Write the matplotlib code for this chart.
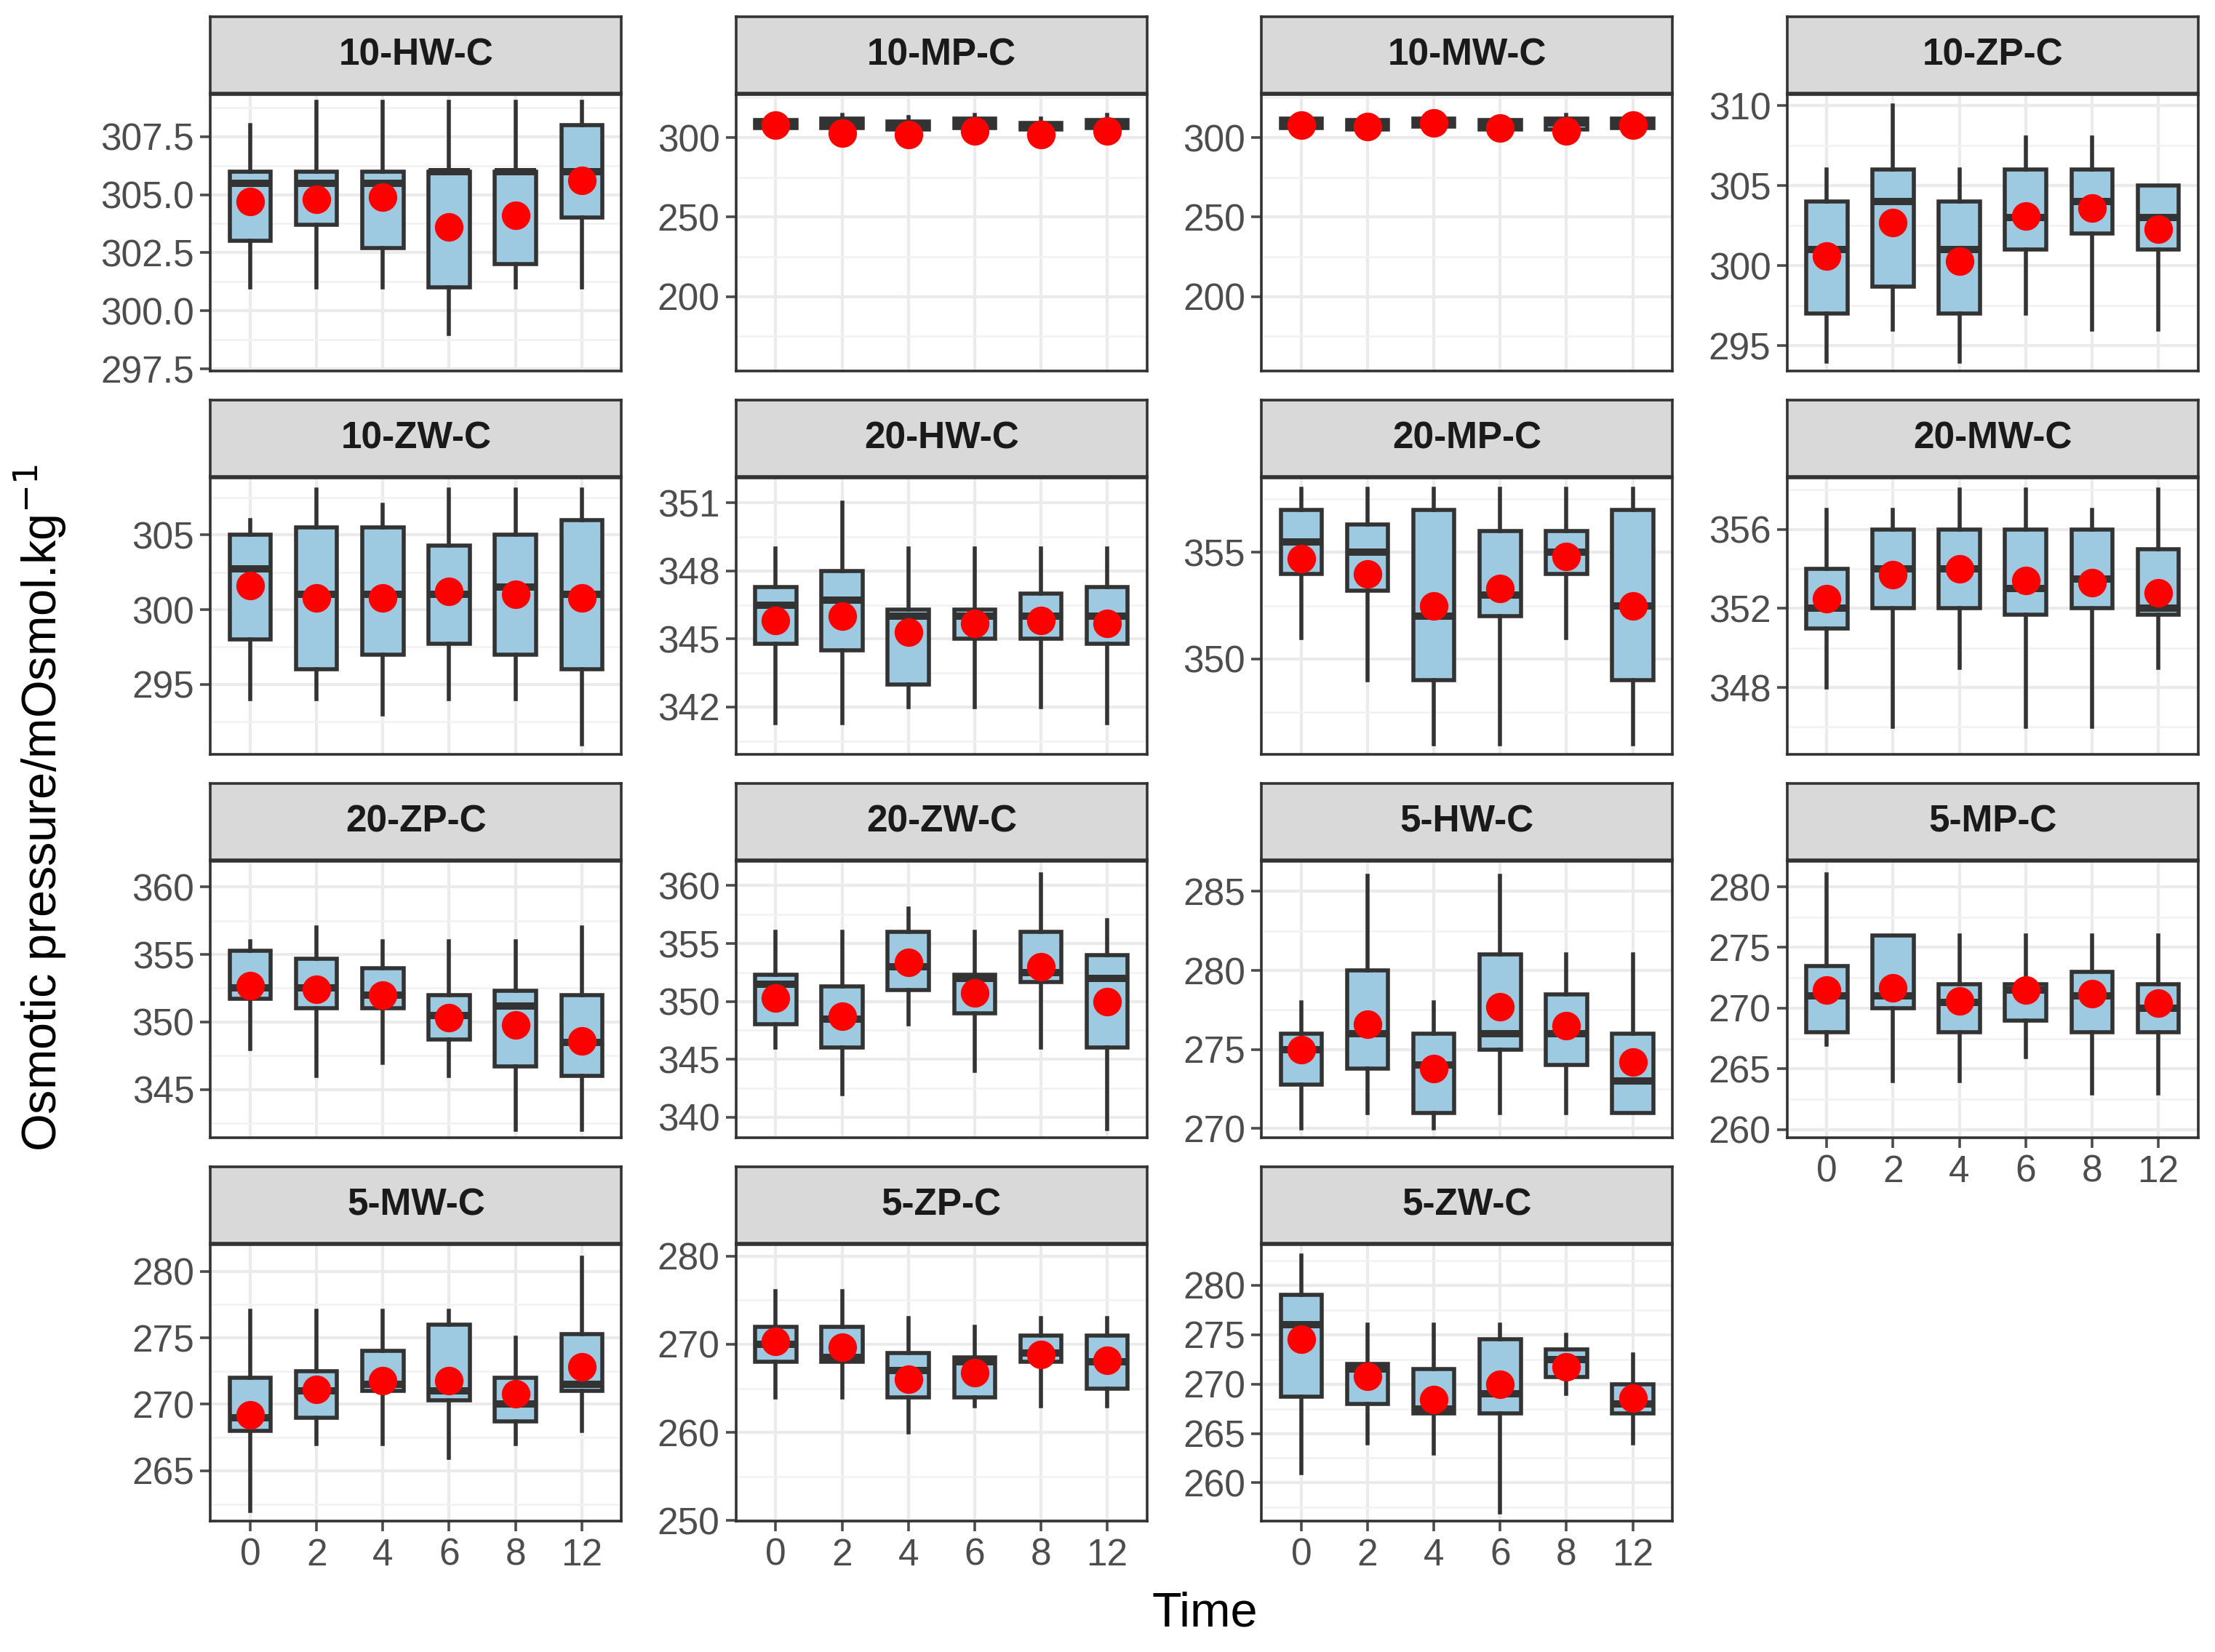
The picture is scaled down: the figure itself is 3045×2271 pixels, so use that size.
import matplotlib
matplotlib.use("Agg")
import matplotlib.pyplot as plt
from matplotlib.ticker import AutoMinorLocator

plt.rcParams["font.family"] = ["Liberation Sans", "DejaVu Sans"]

TIMES = ["0", "2", "4", "6", "8", "12"]

PANELS = ["10-HW-C", "10-MP-C", "10-MW-C", "10-ZP-C",
          "10-ZW-C", "20-HW-C", "20-MP-C", "20-MW-C",
          "20-ZP-C", "20-ZW-C", "5-HW-C", "5-MP-C",
          "5-MW-C", "5-ZP-C", "5-ZW-C"]

# per panel, per time: (whisker low, q1, median, q3, whisker high, mean)
STATS = {
    "10-HW-C": [(301, 303, 305.5, 306, 308, 304.7), (301, 303.7, 305.5, 306, 309, 304.8),
                (301, 302.7, 305.5, 306, 309, 304.9), (299, 301, 306, 306, 309, 303.6),
                (301, 302, 306, 306, 309, 304.1), (301, 304, 306, 308, 309, 305.6)],
    "10-MP-C": [(304, 306, 309, 311, 313, 308), (303, 306, 309, 312, 314, 303),
                (302, 305, 307, 310, 313, 302), (303, 306, 309, 312, 314, 304),
                (302, 305, 307, 309, 312, 302), (303, 306, 309, 311, 314, 304)],
    "10-MW-C": [(304, 306, 309, 312, 314, 308), (303, 305, 308, 311, 313, 307),
                (305, 307, 310, 312, 314, 309), (302, 305, 308, 311, 313, 306),
                (302, 305, 309, 312, 314, 304), (304, 306, 309, 312, 315, 308)],
    "10-ZP-C": [(294, 297, 301, 304, 306, 300.6), (296, 298.7, 304, 306, 310, 302.7),
                (294, 297, 301, 304, 306, 300.3), (297, 301, 303, 306, 308, 303.1),
                (296, 302, 304, 306, 308, 303.6), (296, 301, 303, 305, 305, 302.3)],
    "10-ZW-C": [(294, 298, 302.7, 305, 306, 301.6), (294, 296, 301, 305.5, 308, 300.8),
                (293, 297, 301, 305.5, 307, 300.8), (294, 297.7, 301, 304.3, 308, 301.2),
                (294, 297, 301.5, 305, 308, 301.0), (291, 296, 301, 306, 308, 300.8)],
    "20-HW-C": [(341.3, 344.8, 346.5, 347.3, 349, 345.8), (341.3, 344.5, 346.7, 348, 351, 346.0),
                (342, 343, 346, 346.3, 349, 345.3), (342, 345, 346, 346.3, 349, 345.7),
                (342, 345, 346, 347, 349, 345.8), (341.3, 344.8, 346, 347.3, 349, 345.7)],
    "20-MP-C": [(351, 354, 355.5, 357, 358, 354.7), (349, 353.2, 355, 356.3, 358, 354.0),
                (346, 349, 352, 357, 358, 352.5), (346, 352, 353, 356, 358, 353.3),
                (351, 354, 355, 356, 358, 354.8), (346, 349, 352.5, 357, 358, 352.5)],
    "20-MW-C": [(348, 351, 352, 354, 357, 352.5), (346, 352, 354, 356, 357, 353.7),
                (349, 352, 354, 356, 358, 354.0), (346, 351.7, 353, 356, 358, 353.4),
                (346, 352, 353.5, 356, 357, 353.3), (349, 351.7, 352, 355, 358, 352.8)],
    "20-ZP-C": [(348, 351.7, 352.5, 355.3, 356, 352.7), (346, 351, 352.5, 354.7, 357, 352.4),
                (347, 351, 352, 354, 356, 352.0), (346, 348.7, 350.5, 352, 356, 350.3),
                (342, 346.7, 351.2, 352.3, 356, 349.8), (342, 346, 348.5, 352, 357, 348.6)],
    "20-ZW-C": [(346, 348, 351.5, 352.3, 356, 350.3), (342, 346, 348.5, 351.3, 356, 348.7),
                (348, 351, 353, 356, 358, 353.4), (344, 349, 352, 352.3, 356, 350.7),
                (346, 351.7, 352.5, 356, 361, 353.0), (339, 346, 352, 354, 357, 350.0)],
    "5-HW-C": [(270, 272.8, 275, 276, 278, 275.0), (271, 273.8, 276, 280, 286, 276.6),
               (270, 271, 274, 276, 278, 273.8), (271, 275, 276, 281, 286, 277.7),
               (271, 274, 276, 278.5, 281, 276.5), (271, 271, 273, 276, 281, 274.2)],
    "5-MP-C": [(267, 268, 271, 273.5, 281, 271.5), (264, 270, 271, 276, 276, 271.7),
               (264, 268, 270.5, 272, 276, 270.6), (266, 269, 271.5, 272, 276, 271.5),
               (263, 268, 271, 273, 276, 271.2), (263, 268, 270, 272, 276, 270.4)],
    "5-MW-C": [(262, 268, 269, 272, 277, 269.2), (267, 269, 271, 272.5, 277, 271.1),
               (267, 271, 271.5, 274, 277, 271.8), (266, 270.3, 271, 276, 277, 271.8),
               (267, 268.7, 270, 272, 275, 270.8), (268, 271, 271.5, 275.3, 281, 272.8)],
    "5-ZP-C": [(264, 268, 270, 272, 276, 270.3), (264, 268, 268.5, 272, 276, 269.7),
               (260, 264, 267, 269, 273, 266.0), (263, 264, 268, 268.5, 272, 266.8),
               (263, 268, 269, 271, 273, 268.8), (263, 265, 268, 271, 273, 268.2)],
    "5-ZW-C": [(261, 268.7, 276, 279, 283, 274.5), (264, 268, 271.5, 272, 276, 270.8),
               (263, 267, 267.5, 271.5, 276, 268.4), (257, 267, 269, 274.5, 276, 270.0),
               (269, 270.7, 272.5, 273.5, 275, 271.7), (264, 267, 268, 270, 273, 268.6)],
}

YLIMS = {
    "10-HW-C": (297.4, 309.3), "10-MP-C": (153, 327), "10-MW-C": (153, 327),
    "10-ZP-C": (293.4, 310.7), "10-ZW-C": (290.3, 308.8), "20-HW-C": (339.9, 352.1),
    "20-MP-C": (345.5, 358.5), "20-MW-C": (344.6, 358.6), "20-ZP-C": (341.4, 361.9),
    "20-ZW-C": (338.2, 362.1), "5-HW-C": (269.4, 286.9), "5-MP-C": (259.3, 282.1),
    "5-MW-C": (261.2, 282.0), "5-ZP-C": (249.9, 281.3), "5-ZW-C": (256.1, 284.1),
}

YTICKS = {
    "10-HW-C": [297.5, 300.0, 302.5, 305.0, 307.5], "10-MP-C": [200, 250, 300],
    "10-MW-C": [200, 250, 300], "10-ZP-C": [295, 300, 305, 310],
    "10-ZW-C": [295, 300, 305], "20-HW-C": [342, 345, 348, 351],
    "20-MP-C": [350, 355], "20-MW-C": [348, 352, 356],
    "20-ZP-C": [345, 350, 355, 360], "20-ZW-C": [340, 345, 350, 355, 360],
    "5-HW-C": [270, 275, 280, 285], "5-MP-C": [260, 265, 270, 275, 280],
    "5-MW-C": [265, 270, 275, 280], "5-ZP-C": [250, 260, 270, 280],
    "5-ZW-C": [260, 265, 270, 275, 280],
}

BOX_FILL = "#9ecae1"
EDGE = "#333333"

W, H = 1568.0, 1170.0
fig = plt.figure(figsize=(15.225, 11.355), dpi=200)

col_left = [149, 521, 893, 1265]
pw = 291
row_top = [12, 283.5, 555, 826.5]
strip_h = 54
plot_h = 196

for i, name in enumerate(PANELS):
    r, c = divmod(i, 4)
    x0 = col_left[c] / W
    st = row_top[r]
    sax = fig.add_axes([x0, 1 - (st + strip_h) / H, pw / W, strip_h / H])
    sax.set_facecolor("#d9d9d9")
    sax.set_xticks([]); sax.set_yticks([])
    for s in sax.spines.values():
        s.set_color(EDGE); s.set_linewidth(1.3)
    sax.text(0.5, 0.5, name, ha="center", va="center", fontsize=18.5,
             fontweight="bold", color="#1a1a1a", transform=sax.transAxes)

    ax = fig.add_axes([x0, 1 - (st + strip_h + 1 + plot_h) / H, pw / W, plot_h / H])
    stats = []
    for lo, q1, med, q3, hi, mean in STATS[name]:
        stats.append(dict(whislo=lo, q1=q1, med=med, q3=q3, whishi=hi, fliers=[]))
    pos = list(range(len(TIMES)))
    ax.bxp(stats, positions=pos, widths=0.62, patch_artist=True, showcaps=False,
           boxprops=dict(facecolor=BOX_FILL, edgecolor=EDGE, linewidth=2.0),
           whiskerprops=dict(color=EDGE, linewidth=2.0),
           medianprops=dict(color=EDGE, linewidth=3.6), zorder=3)
    means = [s[5] for s in STATS[name]]
    ax.scatter(pos, means, s=200, color="red", zorder=5, linewidths=0)
    ax.set_xlim(-0.6, 5.6)
    ax.set_ylim(*YLIMS[name])
    ax.set_yticks(YTICKS[name])
    if name == "10-HW-C":
        ax.set_yticklabels([f"{t:.1f}" for t in YTICKS[name]])
    ax.yaxis.set_minor_locator(AutoMinorLocator(2))
    ax.grid(True, which="major", color="#ebebeb", linewidth=1.5, zorder=0)
    ax.grid(True, which="minor", axis="y", color="#f2f2f2", linewidth=0.9, zorder=0)
    ax.set_axisbelow(True)
    for s in ax.spines.values():
        s.set_color(EDGE); s.set_linewidth(1.3)
    ax.tick_params(axis="y", which="minor", length=0)
    ax.tick_params(axis="both", which="major", labelsize=18.5, colors="#4d4d4d",
                   length=5, width=1.3, pad=3)
    ax.set_xticks(pos)
    bottom = (r == 3) or (r == 2 and c == 3)
    if bottom:
        ax.set_xticklabels(TIMES)
    else:
        ax.set_xticklabels([])
        ax.tick_params(axis="x", length=0)

fig.text(853 / W, 1 - 1143 / H, "Time", ha="center", va="center", fontsize=24)
fig.text(28 / W, 1 - 572 / H, "Osmotic pressure/mOsmol.kg$^{-1}$", ha="center",
         va="center", rotation=90, fontsize=24)

fig.savefig("out.png", dpi=200, facecolor="white")
